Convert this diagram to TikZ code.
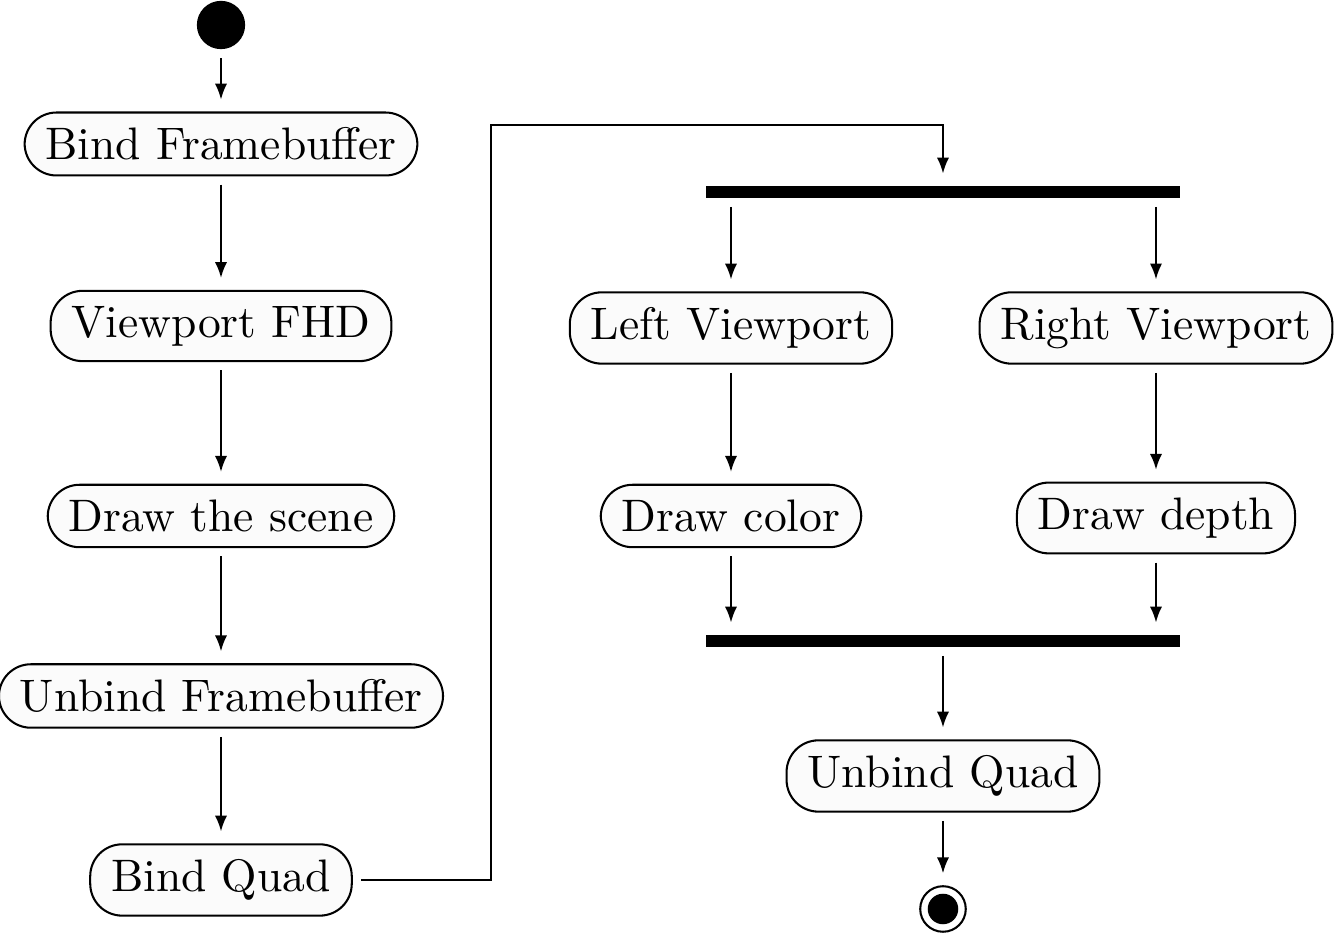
\documentclass[tikz,border=0pt]{standalone}
\usetikzlibrary{arrows.meta,positioning}
\begin{document}
\begin{tikzpicture}[x=0.2195pt,y=-0.2195pt,
  act/.style={draw, fill=black!1.5, rounded corners=7pt, inner xsep=4.6pt, inner ysep=3.33pt, line width=0.45pt},
  bar/.style={fill=black, inner sep=0pt, minimum width=104pt, minimum height=2.5pt},
  startnode/.style={circle, fill=black, inner sep=0pt, minimum size=10.6pt},
  arr/.style={-{Latex[length=3.5pt,width=2.7pt]}, line width=0.45pt, shorten <=1.8pt, shorten >=2.6pt}]
\useasboundingbox (0,0) rectangle (1334,944);
\node[startnode] (s) at (221,25) {};
\node[act] (bf) at (221,144) {Bind Framebuffer};
\node[act] (vf) at (221,326) {Viewport FHD};
\node[act] (ds) at (221,516) {Draw the scene};
\node[act] (uf) at (221,696) {Unbind Framebuffer};
\node[act] (bq) at (221,880) {Bind Quad};
\node[bar] (fork) at (943,192) {};
\node[act] (lv) at (731,328) {Left Viewport};
\node[act] (rv) at (1156,328) {Right Viewport};
\node[act] (dc) at (731,516) {Draw color};
\node[act] (dd) at (1156,518) {Draw depth};
\node[bar] (join) at (943,641) {};
\node[act] (uq) at (943,776) {Unbind Quad};
\node[circle, draw, line width=0.45pt, inner sep=0pt, minimum size=10pt] (e) at (943,909) {};
\node[circle, fill=black, inner sep=0pt, minimum size=6.7pt] (ein) at (e.center) {};
\coordinate (bend) at (491,125);
\draw[arr] (s) -- (bf);
\draw[arr] (bf) -- (vf);
\draw[arr] (vf) -- (ds);
\draw[arr] (ds) -- (uf);
\draw[arr] (uf) -- (bq);
\draw[arr] (bq.east) -| (bend) -| (fork.north);
\draw[arr] (fork.south -| lv.north) -- (lv.north);
\draw[arr] (fork.south -| rv.north) -- (rv.north);
\draw[arr] (lv) -- (dc);
\draw[arr] (rv) -- (dd);
\draw[arr] (dc.south) -- (dc.south |- join.north);
\draw[arr] (dd.south) -- (dd.south |- join.north);
\draw[arr] (join) -- (uq);
\draw[arr] (uq) -- (e);
\end{tikzpicture}
\end{document}
